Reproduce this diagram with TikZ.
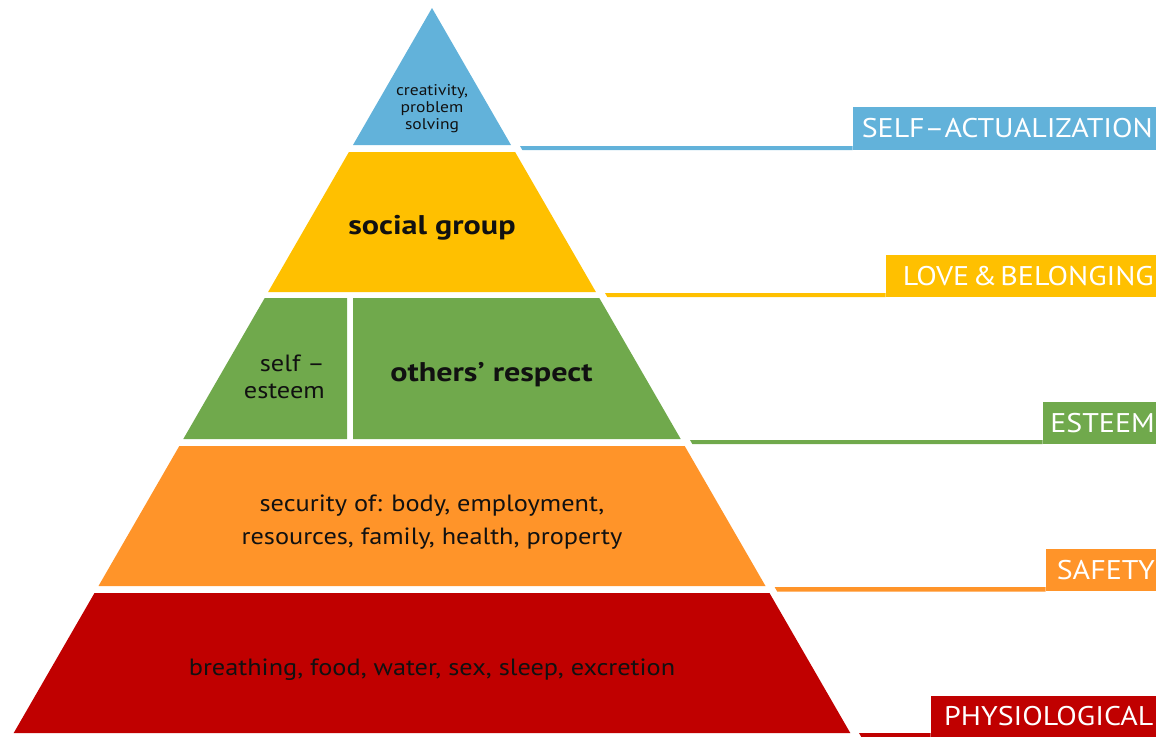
\documentclass[tikz,border=0pt]{standalone}
\usepackage{fontspec}
\setmainfont{PT Sans}
\newfontfamily\bodyfont[FakeStretch=1.12]{PT Sans}
\newfontfamily\boldfont[FakeStretch=1.19]{PT Sans}
\newfontfamily\smallfont[FakeStretch=1.13]{PT Sans}
\newfontfamily\labfont[FakeStretch=1.11]{PT Sans}
\definecolor{cblue}{RGB}{98,178,218}
\definecolor{cyellow}{RGB}{255,192,0}
\definecolor{cgreen}{RGB}{112,169,76}
\definecolor{corange}{RGB}{255,148,41}
\definecolor{cred}{RGB}{192,0,0}
\definecolor{ctext}{RGB}{17,17,17}
\begin{document}
\begin{tikzpicture}[x=1pt,y=-1pt,
  body/.style={inner sep=0pt, text=ctext, font=\bodyfont\fontsize{23.5}{32}\selectfont},
  bodybold/.style={inner sep=0pt, text=ctext, font=\boldfont\fontsize{27}{32}\selectfont\bfseries},
  small/.style={inner sep=0pt, text=ctext, align=center, font=\smallfont\fontsize{15.5}{17}\selectfont},
  lab/.style={inner ysep=0pt, inner xsep=0pt, text=white, anchor=south east, align=right, font=\labfont\fontsize{27}{30}\selectfont},
]
\useasboundingbox (0,0) rectangle (1156,736);
% pyramid layers
\fill[cblue]   (432,8) -- (511,145) -- (353,145) -- cycle;
\fill[cyellow] (348.9,152) -- (515.1,152) -- (595.9,292) -- (268.1,292) -- cycle;
\fill[cgreen]  (264.7,298) -- (347,298) -- (347,439) -- (183.3,439) -- cycle;
\fill[cgreen]  (353,298) -- (599.3,298) -- (680.7,439) -- (353,439) -- cycle;
\fill[corange] (179.3,446) -- (684.7,446) -- (765.5,586) -- (98.5,586) -- cycle;
\fill[cred]    (94.5,593) -- (769.5,593) -- (850.3,733) -- (13.7,733) -- cycle;
% texts in the pyramid
\node[small] (t1) at (432,108.5) {creativity,\\problem\\solving};
\node[bodybold, anchor=base] (t2) at (432,234) {social group};
\node[body, align=right, anchor=east, font=\bodyfont\fontsize{23.5}{27}\selectfont] (t3a) at (325,377) {self –\\esteem};
\node[bodybold, anchor=base] (t3b) at (491.5,381) {others’ respect};
\node[body, align=center, font=\bodyfont\fontsize{23.5}{33}\selectfont] (t4) at (432,522.5) {security of: body, employment,\\resources, family, health, property};
\node[body, anchor=base] (t5) at (432,675) {breathing, food, water, sex, sleep, excretion};
% label boxes
\node[lab, fill=cblue,   minimum width=303, minimum height=43, text width=297] (l1) at (1156,150) {SELF–ACTUALIZATION};
\node[lab, fill=cyellow, minimum width=270, minimum height=42, text width=266] (l2) at (1156,297) {LOVE\hspace{3.5pt}\&\hspace{3.5pt}BELONGING};
\node[lab, fill=cgreen,  minimum width=113, minimum height=42, text width=111] (l3) at (1156,444) {ESTEEM};
\node[lab, fill=corange, minimum width=110, minimum height=42.5, text width=108] (l4) at (1156,591.5) {SAFETY};
\node[lab, fill=cred,    minimum width=225, minimum height=41, text width=220] (l5) at (1156,737) {PHYSIOLOGICAL};
% connector lines (slanted start parallel to pyramid edge)
\coordinate (c1) at (520,146);
\coordinate (c2) at (605,293);
\coordinate (c3) at (690,440);
\coordinate (c4) at (774.6,587);
\coordinate (c5) at (859,733);
\fill[cblue]   (c1) -- (l1.south west |- c1) -- (l1.south west) -- ([xshift=2.3pt,yshift=-4pt]c1) -- cycle;
\fill[cyellow] (c2) -- (l2.south west |- c2) -- (l2.south west) -- ([xshift=2.3pt,yshift=-4pt]c2) -- cycle;
\fill[cgreen]  (c3) -- (l3.south west |- c3) -- (l3.south west) -- ([xshift=2.3pt,yshift=-4pt]c3) -- cycle;
\fill[corange] (c4) -- (l4.south west |- c4) -- (l4.south west) -- ([xshift=2.6pt,yshift=-4.5pt]c4) -- cycle;
\fill[cred]    (c5) -- (l5.south west |- c5) -- (l5.south west) -- ([xshift=2.3pt,yshift=-4pt]c5) -- cycle;
\end{tikzpicture}
\end{document}
